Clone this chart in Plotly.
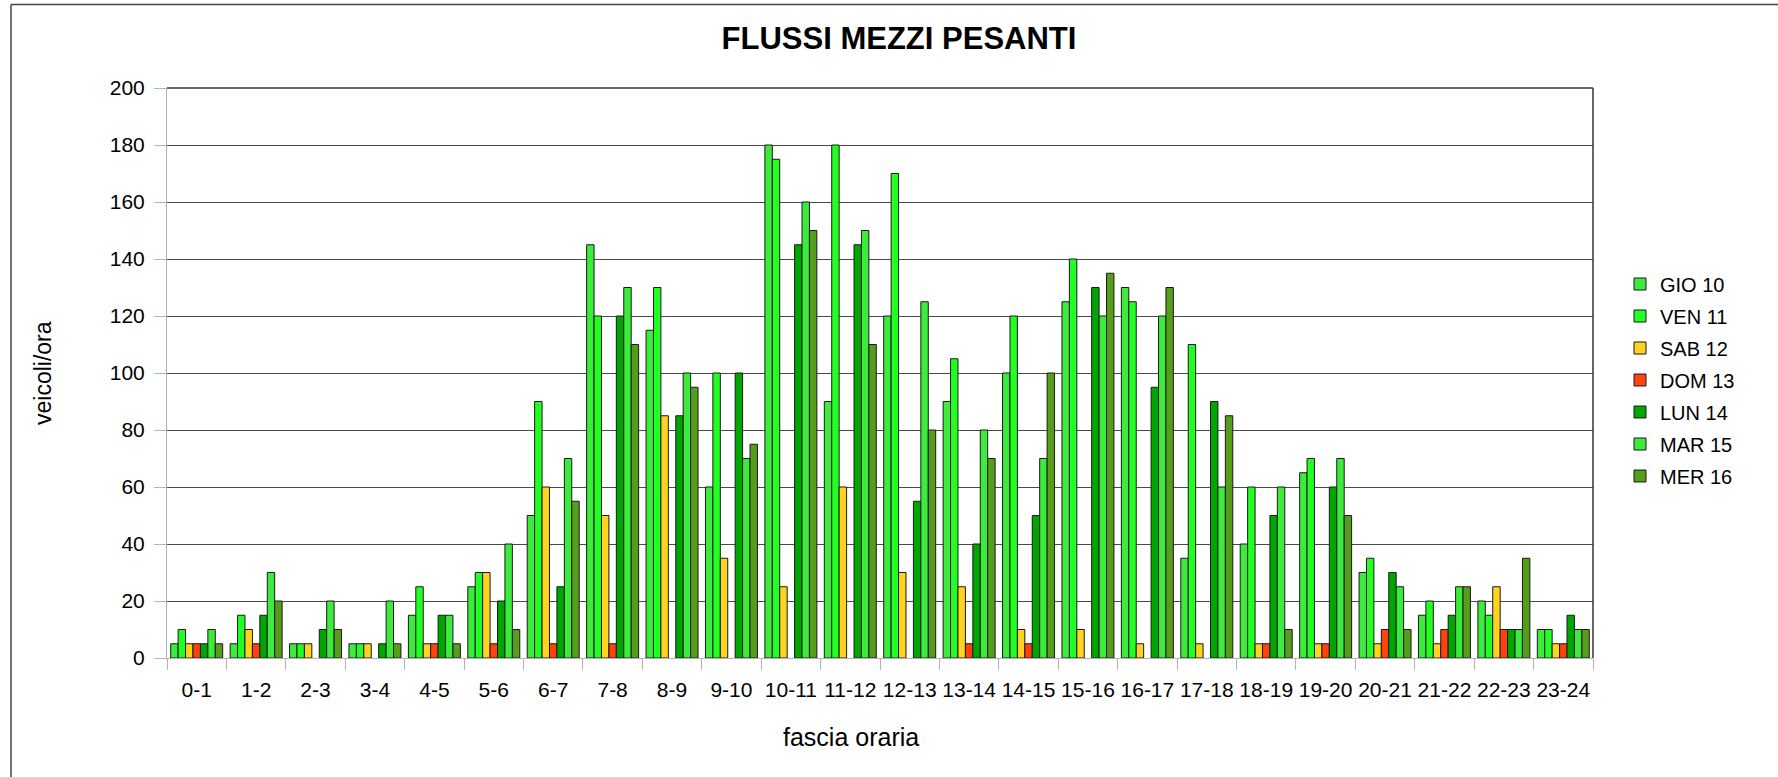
import plotly.graph_objects as go

categories = ["0-1", "1-2", "2-3", "3-4", "4-5", "5-6", "6-7", "7-8", "8-9", "9-10",
              "10-11", "11-12", "12-13", "13-14", "14-15", "15-16", "16-17", "17-18",
              "18-19", "19-20", "20-21", "21-22", "22-23", "23-24"]

gio_10 = [5, 5, 5, 5, 15, 25, 50, 145, 115, 60, 180, 90, 120, 90, 100, 125, 130, 35, 40, 65, 30, 15, 20, 10]
ven_11 = [10, 15, 5, 5, 25, 30, 90, 120, 130, 100, 175, 180, 170, 105, 120, 140, 125, 110, 60, 70, 35, 20, 15, 10]
sab_12 = [5, 10, 5, 5, 5, 30, 60, 50, 85, 35, 25, 60, 30, 25, 10, 10, 5, 5, 5, 5, 5, 5, 25, 5]
dom_13 = [5, 5, None, None, 5, 5, 5, 5, None, None, None, None, None, 5, 5, None, None, None, 5, 5, 10, 10, 10, 5]
lun_14 = [5, 15, 10, 5, 15, 20, 25, 120, 85, 100, 145, 145, 55, 40, 50, 130, 95, 90, 50, 60, 30, 15, 10, 15]
mar_15 = [10, 30, 20, 20, 15, 40, 70, 130, 100, 70, 160, 150, 125, 80, 70, 120, 120, 60, 60, 70, 25, 25, 10, 10]
mer_16 = [5, 20, 10, 5, 5, 10, 55, 110, 95, 75, 150, 110, 80, 70, 100, 135, 130, 85, 10, 50, 10, 25, 35, 10]

series_names = ["GIO 10", "VEN 11", "SAB 12", "DOM 13", "LUN 14", "MAR 15", "MER 16"]
series_values = [gio_10, ven_11, sab_12, dom_13, lun_14, mar_15, mer_16]
series_colors = ["#3deb3d", "#22ff22", "#ffd320", "#ff420e", "#00a600", "#3deb3d", "#579d1c"]

y_ticks = [0, 20, 40, 60, 80, 100, 120, 140, 160, 180, 200]

W, H = 1778, 777
L, R, T, B = 167, 1593, 88, 658
FONT = "Liberation Sans, Arial, sans-serif"


def px_x(p):
    return (p - L) / (R - L)


def px_y(p):
    return (B - p) / (B - T)


fig = go.Figure()
for name, vals, col in zip(series_names, series_values, series_colors):
    fig.add_trace(go.Bar(
        name=name, x=categories, y=vals, legendgroup=name,
        marker=dict(color=col, line=dict(color="#1a1a1a", width=1)),
    ))

fig.update_layout(
    width=W, height=H,
    margin=dict(l=L, r=W - R, t=T, b=H - B, pad=0),
    paper_bgcolor="white", plot_bgcolor="white",
    barmode="group", bargap=0.125, bargroupgap=0,
    font=dict(family=FONT, size=20, color="black"),
    showlegend=True,
    legend=dict(
        x=px_x(1620), xanchor="left",
        y=px_y(380), yanchor="middle",
        font=dict(family=FONT, size=20, color="black"),
        bgcolor="rgba(0,0,0,0)",
        traceorder="grouped", tracegroupgap=3,
    ),
    title=dict(
        text="<b>FLUSSI MEZZI PESANTI</b>",
        font=dict(family=FONT, size=31, color="black"),
        x=899 / W, xref="container", xanchor="center",
        y=1 - 38 / H, yref="container", yanchor="middle",
    ),
)

fig.update_xaxes(
    type="category", tickangle=0,
    showline=True, linecolor="#b3b3b3", linewidth=1,
    ticks="outside", tickson="boundaries", ticklen=11, tickcolor="#b3b3b3",
    ticklabelstandoff=13,
    showgrid=False, zeroline=False,
    tickfont=dict(family=FONT, size=21, color="black"),
)
fig.update_yaxes(
    range=[0, 200], tickvals=y_ticks,
    showline=True, linecolor="#b3b3b3", linewidth=1,
    ticks="outside", ticklen=12, tickcolor="#b3b3b3",
    ticklabelstandoff=5,
    showgrid=True, gridcolor="#4a4a4a", gridwidth=1,
    zeroline=False,
    tickfont=dict(family=FONT, size=21, color="black"),
)

# axis titles
fig.add_annotation(text="fascia oraria", xref="paper", yref="paper",
                   x=px_x(851), y=px_y(737), showarrow=False,
                   xanchor="center", yanchor="middle",
                   font=dict(family=FONT, size=25, color="black"))
fig.add_annotation(text="veicoli/ora", xref="paper", yref="paper",
                   x=px_x(43), y=px_y(373), showarrow=False, textangle=-90,
                   xanchor="center", yanchor="middle",
                   font=dict(family=FONT, size=23, color="black"))

# plot wall top/right borders and outer frame
fig.add_shape(type="line", xref="paper", yref="paper", x0=0, x1=1, y0=1, y1=1,
              line=dict(color="#333333", width=1.5))
fig.add_shape(type="line", xref="paper", yref="paper", x0=1, x1=1, y0=0, y1=1,
              line=dict(color="#333333", width=1.5))
fig.add_shape(type="line", xref="paper", yref="paper",
              x0=px_x(11), x1=px_x(11), y0=px_y(800), y1=px_y(4.5),
              line=dict(color="#444444", width=1.5))
fig.add_shape(type="line", xref="paper", yref="paper",
              x0=px_x(11), x1=px_x(1790), y0=px_y(4.5), y1=px_y(4.5),
              line=dict(color="#444444", width=1.5))

fig.write_html("out.html", config={"displayModeBar": False},
               post_script="document.body.style.margin='0px';document.body.style.overflow='hidden';")
